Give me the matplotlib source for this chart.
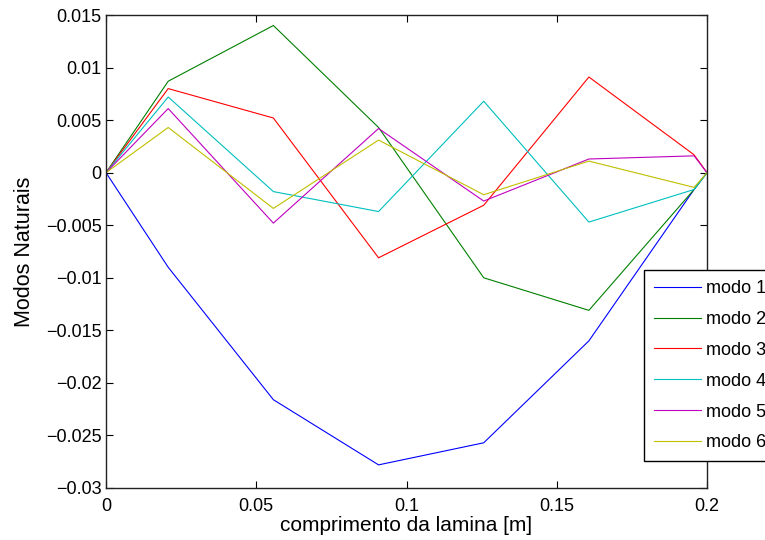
import matplotlib
matplotlib.use("Agg")
from matplotlib import pyplot as plt
from matplotlib.ticker import FuncFormatter

plt.rcParams['font.family'] = ['Liberation Sans', 'DejaVu Sans']

# posicoes dos nos ao longo da lamina [m]
x = [0, 0.0207, 0.0557, 0.0907, 0.1257, 0.1607, 0.1957, 0.2]

modo1 = [0, -0.0090, -0.0216, -0.0278, -0.0257, -0.0160, -0.0016, 0]
modo2 = [0, 0.0087, 0.0140, 0.0043, -0.0100, -0.0131, -0.0016, 0]
modo3 = [0, 0.0080, 0.0052, -0.0081, -0.0031, 0.0091, 0.0017, 0]
modo4 = [0, 0.0072, -0.0018, -0.0037, 0.0068, -0.0047, -0.0016, 0]
modo5 = [0, 0.0061, -0.0048, 0.0042, -0.0027, 0.0013, 0.0016, 0]
modo6 = [0, 0.0043, -0.0034, 0.0031, -0.0021, 0.0011, -0.0014, 0]

modos = [modo1, modo2, modo3, modo4, modo5, modo6]
nomes = ['modo 1', 'modo 2', 'modo 3', 'modo 4', 'modo 5', 'modo 6']
cores = [(0, 0, 1), (0, 0.5, 0), (1, 0, 0), (0, 0.75, 0.75), (0.75, 0, 0.75), (0.75, 0.75, 0)]

fig = plt.figure(figsize=(7.65, 5.4), dpi=100)
ax = fig.add_axes([106 / 765, 1 - 488 / 540, 601 / 765, 473 / 540])

for modo, nome, cor in zip(modos, nomes, cores):
    ax.plot(x, modo, color=cor, linewidth=0.8, label=nome)

ax.set_xlim(0, 0.2)
ax.set_ylim(-0.03, 0.015)
ax.set_xticks([0, 0.05, 0.1, 0.15, 0.2])
ax.set_yticks([0.015 - 0.005 * i for i in range(10)])

# estilo matlab: %g com sinal de menos tipografico
fmt = FuncFormatter(lambda v, pos: ('%g' % round(v, 6)).replace('-', '\u2212'))
ax.xaxis.set_major_formatter(fmt)
ax.yaxis.set_major_formatter(fmt)

ax.tick_params(direction='in', top=True, right=True, length=5, width=0.8,
               labelsize=13)
ax.tick_params(axis='x', pad=7)
ax.tick_params(axis='y', pad=3)
for s in ax.spines.values():
    s.set_linewidth(1.0)
    s.set_color('#222222')

ax.set_xlabel('comprimento da lamina [m]', fontsize=15, labelpad=1)
ax.set_ylabel('Modos Naturais', fontsize=15.5, labelpad=8)

leg = ax.legend(loc='upper left', bbox_to_anchor=(644 / 765, 1 - 270 / 540),
                bbox_transform=fig.transFigure, fontsize=13, fancybox=False,
                framealpha=1, edgecolor='black', borderaxespad=0,
                handlelength=2.6, handletextpad=0.3, labelspacing=0.77,
                borderpad=0.55)
leg.get_frame().set_linewidth(1.0)

fig.savefig('out.png', dpi=100)
